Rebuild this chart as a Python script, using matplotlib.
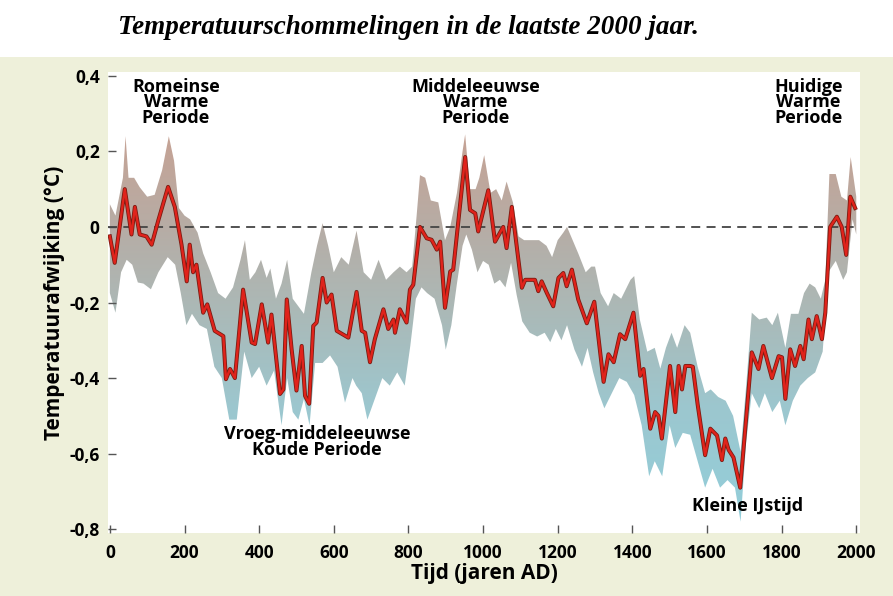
import numpy as np
import matplotlib.pyplot as plt
from matplotlib.colors import LinearSegmentedColormap
from matplotlib.patches import Rectangle

# reconstructie (rode lijn)
jaren = [0, 13, 40, 58, 67, 80, 98, 112, 130, 156, 174, 192, 206, 214, 223, 232, 250, 261, 281, 304,
         311, 322, 335, 357, 380, 389, 407, 424, 433, 456, 465, 474, 487, 500, 514, 523, 534, 545, 554,
         570, 581, 594, 608, 639, 661, 675, 684, 697, 710, 733, 746, 760, 764, 777, 795, 804, 813, 831,
         849, 862, 876, 885, 898, 912, 920, 952, 965, 979, 987, 1014, 1032, 1054, 1063, 1077, 1104, 1113,
         1139, 1148, 1157, 1171, 1188, 1202, 1215, 1224, 1238, 1255, 1278, 1298, 1323, 1336, 1350, 1367,
         1381, 1403, 1421, 1430, 1448, 1461, 1470, 1479, 1501, 1515, 1524, 1533, 1542, 1555, 1562, 1575,
         1595, 1609, 1627, 1640, 1649, 1658, 1671, 1689, 1720, 1738, 1751, 1774, 1792, 1801, 1810, 1823,
         1836, 1850, 1859, 1872, 1881, 1894, 1908, 1917, 1930, 1948, 1961, 1973, 1984, 1997]
temp = [-0.025, -0.095, 0.10, -0.02, 0.053, -0.02, -0.025, -0.047, 0.018, 0.106, 0.053, -0.047, -0.144,
        -0.047, -0.12, -0.10, -0.227, -0.205, -0.275, -0.289, -0.403, -0.376, -0.40, -0.166, -0.306,
        -0.31, -0.205, -0.306, -0.232, -0.442, -0.43, -0.192, -0.324, -0.433, -0.315, -0.447, -0.468,
        -0.262, -0.253, -0.135, -0.20, -0.179, -0.275, -0.293, -0.172, -0.275, -0.28, -0.358, -0.297,
        -0.218, -0.27, -0.245, -0.28, -0.218, -0.253, -0.166, -0.153, 0.0, -0.03, -0.034, -0.06, -0.039,
        -0.214, -0.118, -0.113, 0.185, 0.045, 0.036, -0.012, 0.097, -0.039, 0.0, -0.056, 0.053, -0.161,
        -0.14, -0.14, -0.17, -0.144, -0.175, -0.21, -0.135, -0.122, -0.157, -0.113, -0.192, -0.255,
        -0.198, -0.41, -0.337, -0.358, -0.284, -0.297, -0.227, -0.394, -0.376, -0.534, -0.49, -0.50,
        -0.56, -0.368, -0.49, -0.368, -0.43, -0.368, -0.368, -0.37, -0.47, -0.604, -0.534, -0.552,
        -0.617, -0.56, -0.59, -0.61, -0.69, -0.332, -0.376, -0.315, -0.40, -0.342, -0.345, -0.455,
        -0.324, -0.368, -0.315, -0.35, -0.245, -0.297, -0.236, -0.297, -0.227, 0.0, 0.027, 0.0, -0.074,
        0.08, 0.05]

# onzekerheidsband, bovenrand
boven_jaren = [0, 15, 35, 42, 50, 65, 80, 100, 120, 140, 158, 172, 185, 200, 215, 235, 250, 270, 290,
               310, 330, 350, 362, 375, 390, 405, 420, 430, 445, 460, 475, 490, 505, 520, 540, 555, 570,
               585, 600, 620, 640, 661, 680, 700, 720, 740, 760, 777, 795, 810, 822, 831, 845, 860, 880,
               898, 912, 930, 945, 952, 965, 980, 990, 1003, 1020, 1035, 1050, 1063, 1080, 1095, 1110,
               1130, 1150, 1170, 1185, 1200, 1215, 1225, 1240, 1255, 1275, 1290, 1300, 1315, 1335, 1350,
               1370, 1395, 1405, 1420, 1440, 1460, 1475, 1490, 1505, 1520, 1540, 1555, 1575, 1595, 1610,
               1630, 1650, 1670, 1690, 1705, 1720, 1740, 1760, 1775, 1790, 1810, 1825, 1845, 1860, 1875,
               1890, 1905, 1917, 1928, 1945, 1960, 1975, 1985, 2000]
boven = [0.06, 0.03, 0.13, 0.24, 0.13, 0.13, 0.105, 0.08, 0.085, 0.15, 0.24, 0.175, 0.05, 0.03, 0.02,
         -0.015, -0.07, -0.12, -0.175, -0.19, -0.16, -0.087, -0.035, -0.14, -0.12, -0.087, -0.135, -0.11,
         -0.19, -0.15, -0.087, -0.19, -0.21, -0.23, -0.12, -0.05, 0.01, -0.05, -0.12, -0.08, -0.1, -0.01,
         -0.12, -0.14, -0.087, -0.14, -0.12, -0.105, -0.12, -0.105, 0.03, 0.137, 0.13, 0.07, 0.065,
         -0.035, 0.0, 0.09, 0.2, 0.245, 0.1, 0.1, 0.13, 0.19, 0.09, 0.1, 0.07, 0.12, 0.065, -0.025, -0.035,
         -0.035, -0.035, -0.05, -0.08, -0.035, -0.015, 0.0, -0.035, -0.07, -0.12, -0.105, -0.105, -0.175,
         -0.21, -0.175, -0.19, -0.14, -0.13, -0.245, -0.33, -0.32, -0.375, -0.32, -0.28, -0.32, -0.26,
         -0.28, -0.37, -0.44, -0.43, -0.45, -0.46, -0.5, -0.595, -0.42, -0.227, -0.245, -0.24, -0.26,
         -0.227, -0.32, -0.23, -0.23, -0.175, -0.15, -0.16, -0.19, -0.14, 0.14, 0.14, 0.08, 0.07, 0.185,
         0.08]

# onzekerheidsband, onderrand
onder_jaren = [0, 15, 30, 45, 60, 75, 90, 110, 130, 155, 175, 190, 205, 220, 240, 260, 280, 300, 320,
               340, 360, 380, 400, 420, 440, 460, 475, 490, 505, 520, 535, 550, 570, 590, 610, 630, 650,
               660, 675, 690, 710, 730, 750, 770, 790, 805, 820, 835, 850, 870, 890, 900, 915, 930, 945,
               955, 970, 985, 1000, 1015, 1030, 1045, 1060, 1075, 1090, 1105, 1125, 1145, 1165, 1180,
               1195, 1210, 1225, 1245, 1265, 1280, 1295, 1310, 1325, 1345, 1365, 1385, 1405, 1425, 1445,
               1460, 1480, 1500, 1515, 1535, 1555, 1575, 1595, 1615, 1635, 1655, 1675, 1690, 1705, 1720,
               1740, 1755, 1775, 1795, 1810, 1830, 1850, 1870, 1890, 1910, 1925, 1945, 1965, 1975, 1990,
               2000]
onder = [-0.175, -0.227, -0.12, -0.087, -0.1, -0.147, -0.15, -0.165, -0.12, -0.08, -0.1, -0.175, -0.26,
         -0.23, -0.26, -0.27, -0.37, -0.4, -0.51, -0.51, -0.33, -0.4, -0.37, -0.42, -0.38, -0.525, -0.4,
         -0.49, -0.51, -0.455, -0.525, -0.36, -0.36, -0.34, -0.37, -0.465, -0.4, -0.42, -0.44, -0.51,
         -0.455, -0.4, -0.42, -0.385, -0.42, -0.315, -0.19, -0.16, -0.175, -0.19, -0.26, -0.325, -0.26,
         -0.15, -0.05, -0.02, -0.06, -0.12, -0.09, -0.1, -0.15, -0.14, -0.16, -0.095, -0.18, -0.25, -0.28,
         -0.29, -0.28, -0.305, -0.27, -0.3, -0.26, -0.325, -0.37, -0.32, -0.385, -0.44, -0.48, -0.44, -0.4,
         -0.41, -0.445, -0.525, -0.66, -0.62, -0.66, -0.525, -0.585, -0.545, -0.55, -0.62, -0.69, -0.64,
         -0.69, -0.67, -0.69, -0.78, -0.57, -0.44, -0.48, -0.44, -0.49, -0.46, -0.525, -0.46, -0.42, -0.4,
         -0.385, -0.33, -0.12, -0.09, -0.14, -0.12, 0.02, -0.02]

x_ticks = [0, 200, 400, 600, 800, 1000, 1200, 1400, 1600, 1800, 2000]
y_ticks = [0.4, 0.2, 0.0, -0.2, -0.4, -0.6, -0.8]
y_labels = ['0,4', '0,2', '0', '-0,2', '-0,4', '-0,6', '-0,8']

perioden = [('Romeinse\nWarme\nPeriode', 177, 0.395),
            ('Middeleeuwse\nWarme\nPeriode', 980, 0.395),
            ('Huidige\nWarme\nPeriode', 1872, 0.395)]
koude = [('Vroeg-middeleeuwse\nKoude Periode', 555, -0.525),
         ('Kleine IJstijd', 1710, -0.715)]

bold = ['Open Sans', 'DejaVu Sans']

fig = plt.figure(figsize=(8.93, 5.96), dpi=100, facecolor='white')
# beige achtergrondpaneel
fig.patches.append(Rectangle((0, 0), 1, 1 - 57 / 596, transform=fig.transFigure,
                             facecolor='#eef0da', edgecolor='none', zorder=-1))

ax = fig.add_axes([108 / 893, 1 - 533 / 596, (860 - 108) / 893, (533 - 72) / 596])
ax.set_facecolor('white')
ax.set_xlim(-5, 2010)
ax.set_ylim(-0.81, 0.41)
for s in ax.spines.values():
    s.set_visible(False)

# band met verticaal kleurverloop
bx = np.concatenate([boven_jaren, onder_jaren[::-1]])
by = np.concatenate([boven, onder[::-1]])
poly = ax.fill(bx, by, facecolor='none', edgecolor='none')[0]
cmap = LinearSegmentedColormap.from_list('band', [(0.0, '#92cfdb'), (0.3, '#9cc7cf'),
                                                 (0.55, '#abb9b7'), (0.75, '#b6ada6'),
                                                 (1.0, '#c6a294')])
grad = np.linspace(0, 1, 256).reshape(-1, 1)
im = ax.imshow(grad, extent=[-5, 2010, -0.8, 0.25], origin='lower', cmap=cmap,
               aspect='auto', interpolation='bilinear', zorder=1)
im.set_clip_path(poly)

ax.axhline(0, color='#444444', lw=1.3, ls=(0, (5, 3.5)), zorder=2)

ax.plot(jaren, temp, color='#7a1c12', lw=2.9, zorder=3)
ax.plot(jaren, temp, color='#e0231b', lw=1.7, zorder=4)

ax.set_xticks(x_ticks)
ax.set_xticklabels([str(t) for t in x_ticks], fontsize=12.5, fontweight='bold', family=bold)
ax.set_yticks(y_ticks)
ax.set_yticklabels(y_labels, fontsize=12.5, fontweight='bold', family=bold)
ax.tick_params(axis='both', direction='in', length=6, width=1, color='#555555', pad=6)
ax.tick_params(axis='x', pad=8)

for tekst, x, y in perioden + koude:
    ax.text(x, y, tekst, ha='center', va='top', fontsize=13, fontweight='bold', family=bold,
            linespacing=0.82, zorder=5)

ax.set_xlabel('Tijd (jaren AD)', fontsize=15, fontweight='bold', family=bold, labelpad=1)
ax.set_ylabel('Temperatuurafwijking (°C)', fontsize=15, fontweight='bold', family=bold, labelpad=3)

fig.text(118 / 893, 1 - 28 / 596, 'Temperatuurschommelingen in de laatste 2000 jaar.',
         fontsize=19.5, style='italic', fontweight='semibold',
         family=['Liberation Serif', 'DejaVu Serif'], ha='left', va='center')

fig.savefig('out.png', dpi=100, facecolor='white')
